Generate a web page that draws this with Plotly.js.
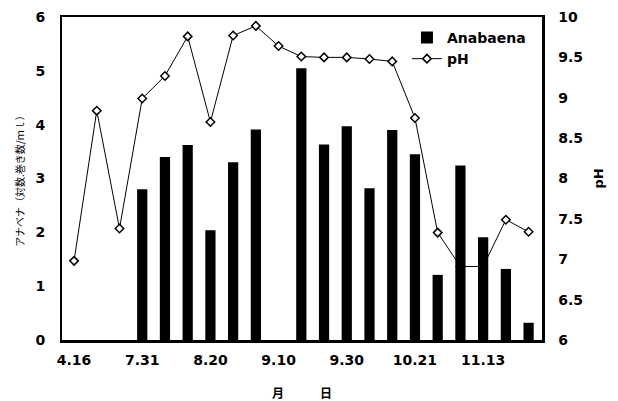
<!DOCTYPE html>
<html>
<head>
<meta charset="utf-8">
<script src="https://cdn.plot.ly/plotly-3.0.1.min.js"></script>
<style>
  html, body { margin: 0; padding: 0; background: #fff; }
  #chart { width: 618px; height: 401px; }
</style>
</head>
<body>
<div id="chart"></div>
<script>
// Sampling rounds, in order (21 samples)
const sampleNo = [0, 1, 2, 3, 4, 5, 6, 7, 8, 9, 10, 11, 12, 13, 14, 15, 16, 17, 18, 19, 20];

// Anabaena abundance (log of coils per ml); null = not detected
const anabaena = [null, null, null, 2.80, 3.40, 3.62, 2.04, 3.30, 3.91, null, 5.05,
                  3.63, 3.97, 2.82, 3.90, 3.45, 1.21, 3.24, 1.91, 1.32, 0.32];

// pH of the same samples
const pH = [6.98, 8.84, 7.38, 8.99, 9.27, 9.76, 8.70, 9.77, 9.89, 9.64, 9.51,
            9.50, 9.50, 9.48, 9.45, 8.75, 7.33, 6.91, 6.91, 7.49, 7.34];

// Dates (month.day) labelled on the axis, and the samples they fall on
const dateLabels = ['4.16', '7.31', '8.20', '9.10', '9.30', '10.21', '11.13'];
const dateSlots = [0, 3, 6, 9, 12, 15, 18];

const tickFont = { family: 'DejaVu Sans', size: 14, color: '#000', weight: 'bold' };

const traces = [
  {
    // on the overlaying axis, so the columns are drawn in front of the pH line
    type: 'bar',
    name: 'Anabaena',
    x: sampleNo,
    y: anabaena,
    yaxis: 'y2',
    marker: { color: '#000', line: { width: 0 } },
    hoverinfo: 'skip'
  },
  {
    type: 'scatter',
    mode: 'lines+markers',
    name: 'pH',
    x: sampleNo,
    y: pH,
    yaxis: 'y',
    line: { color: '#000', width: 1 },
    marker: { symbol: 'diamond', size: 6.5, color: '#fff', line: { color: '#000', width: 1.5 } },
    hoverinfo: 'skip'
  }
];

const layout = {
  width: 618,
  height: 401,
  margin: { l: 62, r: 76, t: 17, b: 61 },
  paper_bgcolor: '#fff',
  plot_bgcolor: '#fff',
  showlegend: true,
  bargap: 0.55,
  legend: {
    x: 0.977, xanchor: 'right',
    y: 0.985, yanchor: 'top',
    bgcolor: 'rgba(0,0,0,0)',
    font: { family: 'DejaVu Sans', size: 14, color: '#000', weight: 'bold' },
    tracegroupgap: 0
  },
  xaxis: {
    range: [-0.53, 20.59],
    tickmode: 'array',
    tickvals: dateSlots,
    ticktext: dateLabels,
    tickfont: tickFont,
    ticks: 'outside', ticklen: 6, tickcolor: 'rgba(0,0,0,0)',
    showgrid: false, zeroline: false,
    showline: true, linecolor: '#000', linewidth: 2.5, mirror: true,
    title: {
      text: '月　　　日',
      font: { family: 'Noto Sans CJK JP', size: 12, color: '#000', weight: 'bold' },
      standoff: 24
    }
  },
  // pH on the right
  yaxis: {
    side: 'right',
    range: [6, 10],
    dtick: 0.5,
    tickfont: tickFont,
    ticks: 'outside', ticklen: 11, tickcolor: 'rgba(0,0,0,0)',
    showgrid: false, zeroline: false,
    showline: true, linecolor: '#000', linewidth: 2.5, mirror: true,
    title: {
      text: 'pH',
      font: { family: 'DejaVu Sans', size: 13, color: '#000', weight: 'bold' },
      standoff: 12
    }
  },
  // Anabaena on the left
  yaxis2: {
    side: 'left',
    overlaying: 'y',
    range: [0, 6],
    dtick: 1,
    tickfont: tickFont,
    ticks: 'outside', ticklen: 13, tickcolor: 'rgba(0,0,0,0)',
    showgrid: false, zeroline: false, showline: false,
    title: {
      text: 'アナベナ（対数.巻き数/ｍｌ）',
      font: { family: 'Noto Sans CJK JP', size: 10, color: '#000' },
      standoff: 8
    }
  }
};

Plotly.newPlot('chart', traces, layout, { staticPlot: true, displayModeBar: false });
</script>
</body>
</html>
